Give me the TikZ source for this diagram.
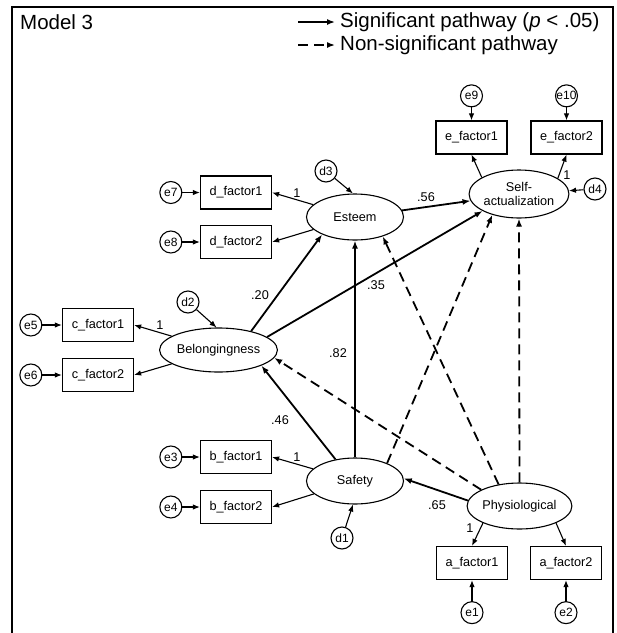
\documentclass[tikz,border=0pt]{standalone}
\usepackage{fontspec}
\setmainfont{Liberation Sans}
\usetikzlibrary{positioning,shapes.geometric,arrows.meta}

\begin{document}
\begin{tikzpicture}[x=1pt, y=-1pt,
    every node/.style={font=\fontsize{12.7}{14}\selectfont},
    latent/.style={draw, ellipse, line width=1.1pt, minimum width=97pt, minimum height=46pt,
                   inner sep=0pt, align=center},
    ind/.style={draw, rectangle, line width=1.2pt, minimum width=71pt, minimum height=33pt, inner sep=0pt},
    err/.style={draw, circle, line width=1.1pt, minimum size=22pt, inner sep=0pt,
                font=\fontsize{12}{12}\selectfont},
    coef/.style={inner sep=0pt},
    big/.style={inner sep=0pt, anchor=west, font=\fontsize{20.5}{24}\selectfont},
    load/.style={-{Latex[length=7pt,width=5.5pt]}, line width=1.1pt},
    sigpath/.style={-{Latex[length=8pt,width=6pt]}, line width=1.8pt},
    nspath/.style={sigpath, dash pattern=on 10pt off 6pt},
  ]
  \useasboundingbox (0,0) rectangle (617,633);

  % frame, title and legend
  \draw[line width=1.1pt] (12,633) |- (613,7) -- (613,633);
  \node[big] (title) at (20,22) {Model 3};
  \node[big] (legsig) at (340,22) {Significant pathway (\textit{p} < .05)};
  \node[big] (legns) at (340,45) {Non-significant pathway};
  \coordinate (legsigtail) at (298,22);
  \coordinate (legnstail) at (298,45);
  \draw[sigpath, line width=1.5pt, shorten >=5pt] (legsigtail) -- (legsig.west);
  \draw[nspath, line width=1.5pt, shorten >=5pt] (legnstail) -- (legns.west);

  % latent variables
  \node[latent, minimum height=48pt] (selfact) at (519,194) {Self-\\actualization};
  \node[latent] (esteem) at (355,217) {Esteem};
  \node[latent, minimum height=44pt] (belong) at (218.5,350) {Belongingness};
  \node[latent] (safety) at (355,481) {Safety};
  \node[latent] (phys) at (519.5,506) {Physiological};

  % indicators
  \node[ind] (ef1) at (471.5,137.5) {e\_factor1};
  \node[ind] (ef2) at (566.5,137.5) {e\_factor2};
  \node[ind] (df1) at (236,192.5) {d\_factor1};
  \node[ind] (df2) at (236,242) {d\_factor2};
  \node[ind] (cf1) at (98,325) {c\_factor1};
  \node[ind] (cf2) at (98,375) {c\_factor2};
  \node[ind] (bf1) at (236,457) {b\_factor1};
  \node[ind] (bf2) at (236,507) {b\_factor2};
  \node[ind] (af1) at (472,563) {a\_factor1};
  \node[ind] (af2) at (566,563) {a\_factor2};

  % error and disturbance terms
  \node[err, above=13pt of ef1] (e9) {e9};
  \node[err, above=13pt of ef2] (e10) {e10};
  \node[err, left=17.5pt of df1] (e7) {e7};
  \node[err, left=17.5pt of df2] (e8) {e8};
  \node[err, left=19.5pt of cf1] (e5) {e5};
  \node[err, left=19.5pt of cf2] (e6) {e6};
  \node[err, left=17.5pt of bf1] (e3) {e3};
  \node[err, left=17.5pt of bf2] (e4) {e4};
  \node[err, below=21pt of af1] (e1) {e1};
  \node[err, below=21pt of af2] (e2) {e2};
  \node[err] (d1) at (342,538) {d1};
  \node[err] (d2) at (188,302) {d2};
  \node[err] (d3) at (326,171) {d3};
  \node[err] (d4) at (595,189) {d4};

  % measurement part
  \draw[load] (e9) -- (ef1);
  \draw[load] (e10) -- (ef2);
  \draw[load] (selfact.156) -- (ef1.south);
  \draw[load] (selfact.22) -- (ef2.south);
  \draw[load] (d4) -- (selfact);
  \draw[load] (d3) -- (esteem.95);
  \draw[load] (esteem) -- (df1.east);
  \draw[load] (esteem) -- (df2.east);
  \draw[load] (e7) -- (df1);
  \draw[load] (e8) -- (df2);
  \draw[load] (d2) -- (belong.95);
  \draw[load] (belong) -- (cf1.east);
  \draw[load] (belong) -- (cf2.east);
  \draw[load] (e5) -- (cf1);
  \draw[load] (e6) -- (cf2);
  \draw[load] (safety) -- (bf1.east);
  \draw[load] (safety) -- (bf2.east);
  \draw[load] (e3) -- (bf1);
  \draw[load] (e4) -- (bf2);
  \draw[load] (d1) -- (safety.-95);
  \draw[load] (phys.-155) -- (af1.north);
  \draw[load] (phys.-25) -- (af2.north);
  \draw[load] (e1) -- (af1);
  \draw[load] (e2) -- (af2);

  % structural paths
  \draw[sigpath] (esteem) -- (selfact);
  \draw[sigpath] (belong.15) -- (selfact.205);
  \draw[sigpath] (belong.30) -- (esteem.208);
  \draw[sigpath] (safety) -- (esteem);
  \draw[sigpath] (safety.132) -- (belong.-20);
  \draw[sigpath] (phys.174) -- (safety.3);
  \draw[nspath] (safety.29) -- (selfact.218);
  \draw[nspath] (phys.north) -- (selfact.south);
  \draw[nspath] (phys.134) -- (esteem.-35);
  \draw[nspath] (phys.157) -- (belong.-8);

  % coefficients
  \node[coef] (c56) at (426,197) {.56};
  \node[coef] (c35) at (376,285) {.35};
  \node[coef] (c20) at (260,295) {.20};
  \node[coef] (c82) at (338,353) {.82};
  \node[coef] (c46) at (280,420) {.46};
  \node[coef] (c65) at (437,505) {.65};
  \node[coef] (lde) at (297,193) {1};
  \node[coef] (lcb) at (160,325) {1};
  \node[coef] (lbs) at (297,457) {1};
  \node[coef] (lap) at (470,528) {1};
  \node[coef] (les) at (567,175) {1};
\end{tikzpicture}
\end{document}
